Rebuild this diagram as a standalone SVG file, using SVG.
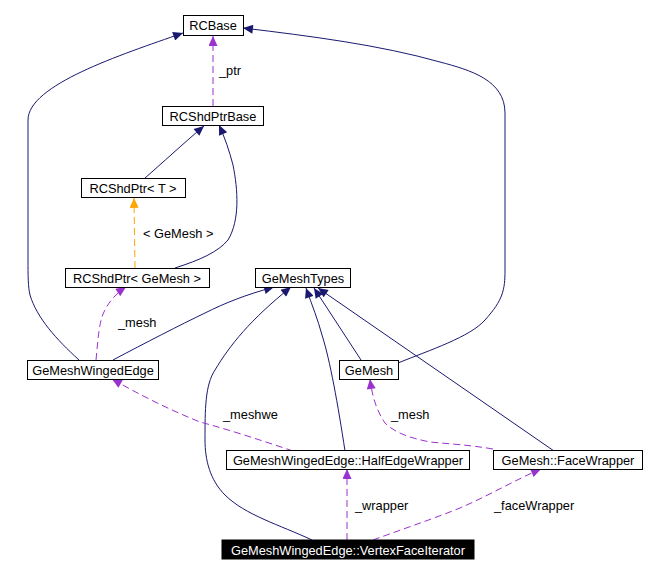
<svg xmlns="http://www.w3.org/2000/svg" width="656" height="574" viewBox="0 0 656 574">
<style>
.n rect{fill:#fff;stroke:#000;stroke-width:1}
.n text,.lbl{font-family:"Liberation Sans",Arial,sans-serif;font-size:12.8px;fill:#000}
.n text{text-anchor:middle}
.s{fill:none;stroke:#191970;stroke-width:1}
.dp{fill:none;stroke:#9a32cd;stroke-width:1;stroke-dasharray:7,4}
.do{fill:none;stroke:#ffa500;stroke-width:1;stroke-dasharray:7,4}
#vfi rect{fill:#000;stroke:#000}
#vfi text{fill:#fff}
</style>
<defs>
<marker id="an" viewBox="0 0 11 10" refX="11" refY="5" markerWidth="11" markerHeight="9" markerUnits="userSpaceOnUse" orient="auto"><path d="M0,0 L11,5 L0,10 z" fill="#191970"/></marker>
<marker id="ap" viewBox="0 0 11 10" refX="11" refY="5" markerWidth="11" markerHeight="9" markerUnits="userSpaceOnUse" orient="auto"><path d="M0,0 L11,5 L0,10 z" fill="#9a32cd"/></marker>
<marker id="ao" viewBox="0 0 11 10" refX="11" refY="5" markerWidth="11" markerHeight="9" markerUnits="userSpaceOnUse" orient="auto"><path d="M0,0 L11,5 L0,10 z" fill="#ffa500"/></marker>
</defs>
<rect width="656" height="574" fill="#fff"/>
<g id="edges">
<path class="s" marker-end="url(#an)" d="M79,360 C56,339 37,318 30,295 C28,287 28,275 28,260 L28,120 C28,85 120,55 183,33"/>
<path class="s" marker-end="url(#an)" d="M398,363 C430,350 470,337 485,320 C503,300 505,290 505,270 L505,113 C505,80 470,70 440,62 C380,45 310,36 243,28"/>
<path class="dp" marker-end="url(#ap)" d="M213,106 L213,36"/>
<path class="s" marker-end="url(#an)" d="M145,178 C160,165 185,142 204,126"/>
<path class="s" marker-end="url(#an)" d="M175,268 C200,260 218,252 228,240 C240,220 238,190 233,165 C229,150 225,138 219,125"/>
<path class="do" marker-end="url(#ao)" d="M135,268 L134,198"/>
<path class="dp" marker-end="url(#ap)" d="M96,360 C98,340 99,320 105,310 C110,300 117,293 126,287"/>
<path class="s" marker-end="url(#an)" d="M113,360 C145,343 180,325 205,313 C225,303 245,295 274,287"/>
<path class="s" marker-end="url(#an)" d="M312,540 C280,525 245,515 225,495 C210,480 205,460 205,440 C205,410 205,385 215,370 C230,345 250,320 291,287"/>
<path class="s" marker-end="url(#an)" d="M345,451 C338,405 330,360 322,335 C318,320 312,305 306,288"/>
<path class="s" marker-end="url(#an)" d="M361,360 L314,288"/>
<path class="s" marker-end="url(#an)" d="M554,451 L318,288"/>
<path class="dp" marker-end="url(#ap)" d="M293,451 C260,440 230,430 200,422 C170,410 140,395 112,379"/>
<path class="dp" marker-end="url(#ap)" d="M493,449 C470,445 450,444 430,442 C410,438 395,433 385,423 C376,410 372,395 370,379"/>
<path class="dp" marker-end="url(#ap)" d="M347,540 L347,469"/>
<path class="dp" marker-end="url(#ap)" d="M373,540 C400,530 430,520 460,508 C490,495 515,480 541,469"/>
<text class="lbl" x="219" y="75">_ptr</text>
<text class="lbl" x="143" y="238">&lt; GeMesh &gt;</text>
<text class="lbl" x="118" y="327">_mesh</text>
<text class="lbl" x="223" y="419">_meshwe</text>
<text class="lbl" x="391" y="419">_mesh</text>
<text class="lbl" x="355" y="510">_wrapper</text>
<text class="lbl" x="494" y="510">_faceWrapper</text>
</g>
<g id="rcbase" class="n"><rect x="183.5" y="15.5" width="60" height="20"/><text x="213" y="30">RCBase</text></g>
<g id="rcshdptrbase" class="n"><rect x="162.5" y="106.5" width="101" height="19"/><text x="213" y="120.5">RCShdPtrBase</text></g>
<g id="rcshdptrt" class="n"><rect x="81.5" y="178.5" width="104" height="19"/><text x="133" y="192.5">RCShdPtr&lt; T &gt;</text></g>
<g id="rcshdptrgemesh" class="n"><rect x="65.5" y="268.5" width="144" height="19"/><text x="137" y="282.5">RCShdPtr&lt; GeMesh &gt;</text></g>
<g id="gemeshtypes" class="n"><rect x="255.5" y="268.5" width="95" height="19"/><text x="303" y="282.5">GeMeshTypes</text></g>
<g id="gemeshwingededge" class="n"><rect x="27.5" y="360.5" width="131" height="19"/><text x="93" y="374.5">GeMeshWingedEdge</text></g>
<g id="gemesh" class="n"><rect x="339.5" y="360.5" width="59" height="19"/><text x="369" y="374.5">GeMesh</text></g>
<g id="halfedgewrapper" class="n"><rect x="226.5" y="450.5" width="243" height="19"/><text x="348" y="464.5">GeMeshWingedEdge::HalfEdgeWrapper</text></g>
<g id="facewrapper" class="n"><rect x="493.5" y="450.5" width="149" height="19"/><text x="568" y="464.5">GeMesh::FaceWrapper</text></g>
<g id="vfi" class="n"><rect x="222" y="540" width="252" height="19"/><text x="348" y="554.5">GeMeshWingedEdge::VertexFaceIterator</text></g>
</svg>
